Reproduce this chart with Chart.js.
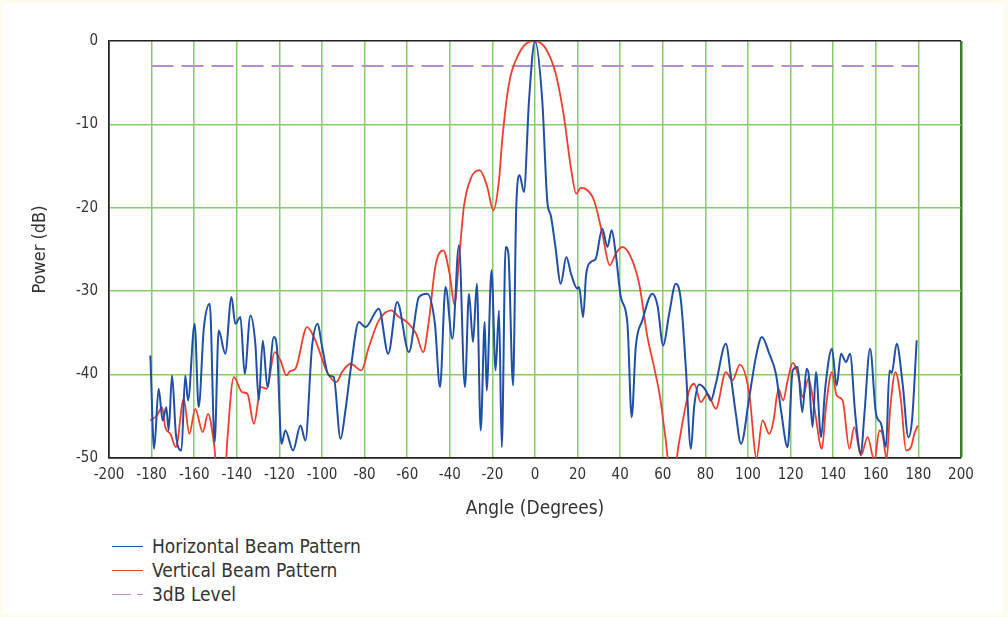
<!DOCTYPE html>
<html lang="en">
<head>
    <meta charset="UTF-8">
    <title>Beam Pattern</title>
    <script src="https://cdn.jsdelivr.net/npm/chart.js"></script>
    <style>
        body { margin: 0; background: #fdfcef; font-family: 'Liberation Sans Narrow', 'DejaVu Sans Condensed', sans-serif; }
        .frame { position: absolute; left: 3px; top: 3px; width: 1000px; height: 611px; background: #fff; }
        .chart-wrapper { position: absolute; left: 0; top: 0; width: 1008px; height: 530px; }
        .legend { position: absolute; left: 112px; top: 535px; }
        .legend-item { position: relative; height: 24px; line-height: 22px; font-size: 19px; color: #333; }
        .legend-item .swatch { position: absolute; left: 0; top: 11px; width: 31px; height: 0; border-top: 1.5px solid; }
        .legend-item .label { position: absolute; left: 40px; top: 0; white-space: nowrap; }
    </style>
</head>
<body>
    <div class="frame"></div>
    <div class="chart-wrapper"><canvas id="beamChart" width="1008" height="530"></canvas></div>

    <div class="legend">
        <div class="legend-item"><span class="swatch" style="border-color:#1f4fa6"></span><span class="label">Horizontal Beam Pattern</span></div>
        <div class="legend-item"><span class="swatch" style="border-color:#f23d2b"></span><span class="label">Vertical Beam Pattern</span></div>
        <div class="legend-item">
            <span class="swatch" style="border-color:#b48fcc;width:19px"></span>
            <span class="swatch" style="border-color:#b48fcc;left:25px;width:6px"></span>
            <span class="label">3dB Level</span>
        </div>
    </div>

    <script>
        // horizontal beam pattern (blue)
        const hAngles = [-180.6, -178.8, -176.7, -174.8, -173.1, -172, -170.4, -168.6, -166, -164.2, -162.9, -159.8, -157.9, -155.5, -152.7, -150.4, -148.5, -145.4, -142.5, -140.7, -138.3, -136.3, -133.6, -131.3, -129.7, -127.8, -125.6, -122.6, -121.1, -119, -117.2, -113.6, -110.1, -107.8, -104.7, -102, -100.2, -96.8, -94.5, -91.3, -89, -86.6, -82.7, -79.6, -73.3, -68.9, -64.7, -59.2, -54.5, -50.6, -47, -44.6, -42, -38.8, -35.7, -32.9, -31, -29.1, -27.3, -25.5, -23.6, -22.7, -20.4, -18.5, -16.9, -15.6, -13.8, -12.5, -10.3, -8.8, -7.2, -5.2, -2.8, 0, 3.4, 5.8, 7.4, 9.5, 12.1, 14.7, 17, 19.9, 20.7, 22.6, 24, 26.2, 28.5, 31.6, 34, 36, 37.9, 40.3, 43.4, 45.4, 47.3, 50.4, 55.1, 57.5, 60.2, 63, 66.1, 68.5, 70.8, 73.2, 74.7, 77.1, 80.2, 82.6, 84.9, 89.6, 92, 94.3, 96.7, 100.6, 103.7, 106.5, 110, 113.1, 115.5, 118.6, 121, 123.3, 125.5, 127.5, 128.5, 130.3, 131.9, 134.3, 136.3, 139.4, 141.6, 143.7, 146, 147.9, 150.4, 153, 154.6, 157.3, 160.1, 162.5, 164.8, 166.4, 167.5, 169.8, 172.6, 175.3, 177, 179.2];
        const hPower = [-37.7, -48.9, -41.7, -45.5, -43.9, -46.7, -40.1, -47.1, -49.1, -40.1, -43.1, -33.9, -43.9, -34.5, -31.5, -48.1, -34.7, -37.5, -30.7, -33.9, -33.1, -39.9, -32.9, -36.3, -43.1, -35.9, -41.5, -35.5, -36.9, -48.3, -46.7, -49.1, -46.1, -47.9, -36.7, -33.9, -36.3, -40.1, -40.3, -47.7, -44.3, -39.5, -33.7, -34.3, -32.1, -37.5, -31.3, -37.3, -30.7, -30.3, -33.9, -41.5, -29.5, -35.7, -24.5, -41.5, -30.3, -36.1, -29.1, -46.7, -33.7, -41.9, -27.5, -39.5, -32.3, -48.7, -24.7, -25.5, -41.3, -19.9, -16.1, -18.1, -7.1, 0, -7.1, -19.3, -20.9, -24.5, -29.1, -25.9, -28, -29.7, -29.5, -33.1, -28, -26.5, -26.1, -22.5, -24.7, -22.7, -25.5, -30.7, -33.9, -45.1, -36.7, -33.5, -30.3, -31.7, -36.5, -32.7, -29.1, -31.1, -39.1, -48.9, -43.9, -41.2, -41.9, -43.1, -41.1, -36.3, -40.3, -44.7, -48.3, -42.7, -37.9, -35.5, -37.5, -39.9, -44.3, -48.7, -39.5, -39.1, -44.5, -39.3, -40, -46.3, -39.7, -47.5, -41.5, -36.9, -41.3, -37.5, -38.5, -37.5, -44.9, -49.5, -44.9, -36.9, -44.7, -45.9, -48.7, -39.5, -39.8, -36.3, -41.1, -47.5, -45.5, -35.9];

        // vertical beam pattern (red)
        const vAngles = [-180.6, -177.5, -175.1, -173.6, -171.2, -168.6, -164.9, -162.3, -159.5, -156, -153.5, -150.8, -149, -145.5, -144.5, -141.4, -137.5, -135, -132, -128.6, -126, -122.2, -119.5, -116.7, -115, -112.5, -107, -103.1, -97.6, -93.2, -90.6, -86.6, -81.5, -78, -73.3, -67.4, -63.9, -60, -55.8, -52.5, -49.8, -46.7, -43.1, -40.1, -37.7, -35.7, -33.4, -30.2, -26, -22.4, -19.6, -16.9, -15.4, -12.2, -7.5, -2.8, 0, 5, 9.7, 13.6, 16.8, 19.4, 21.5, 23.5, 27.7, 31.6, 35.1, 37.9, 41, 45, 48.9, 52.8, 55.9, 58.7, 61.4, 63, 65.8, 67.4, 70, 72.4, 74.7, 77.9, 81, 84.9, 89.6, 92.7, 96.2, 100.6, 104, 106.8, 110, 112, 114.3, 116.5, 118.6, 121, 124.1, 125.6, 128.4, 131.1, 134.7, 136.6, 139.4, 141.6, 144.4, 147.6, 149.9, 153, 156.2, 159.3, 161.7, 163, 165.1, 166.7, 169.2, 171.8, 174.2, 176.5, 178.1, 179.7];
        const vPower = [-45.5, -44.9, -43.9, -46.3, -47.1, -48.7, -42.9, -47.1, -44.1, -46.9, -44.7, -48.1, -52, -52, -48, -40.3, -42.1, -42.3, -45.9, -41.5, -41.7, -37.3, -38.3, -40.1, -39.6, -39.3, -34.3, -35.9, -39.7, -40.9, -39.7, -38.7, -39.5, -36.7, -33.5, -32.3, -33.1, -33.7, -35.1, -37.3, -33.5, -26.9, -25.1, -27.9, -31.7, -26.3, -19.9, -16.5, -15.5, -17.5, -20.3, -16.7, -11.9, -5.1, -1.5, -0.1, 0, -0.9, -3.9, -9.1, -15.1, -18.3, -17.6, -17.7, -19.1, -23.1, -26.9, -25.5, -24.7, -25.9, -29.1, -35.5, -39.1, -42.7, -47.9, -51, -51, -48.5, -44.7, -41.9, -41.1, -43.3, -42.3, -44.1, -39.7, -40.7, -38.8, -42.3, -50, -45.5, -47.1, -45.5, -41.7, -43.1, -40.7, -38.6, -40.7, -42.7, -40.5, -43.9, -48.9, -43.9, -39.7, -42.5, -43.1, -48.9, -46.3, -49.7, -47.5, -50.3, -46.7, -47, -50.1, -44.3, -39.7, -43.1, -49.1, -48.7, -47.1, -46.1];

        // 3dB reference line
        const levelAngles = [-180, 180];
        const levelPower = [-3, -3];

        const xTicks = [-200, -180, -160, -140, -120, -100, -80, -60, -40, -20, 0, 20, 40, 60, 80, 100, 120, 140, 160, 180, 200];
        const yTicks = [0, -10, -20, -30, -40, -50];

        const toPoints = (xs, ys) => xs.map((x, i) => ({ x: x, y: ys[i] }));

        const tickFont = { family: "'Liberation Sans Narrow', 'DejaVu Sans Condensed', sans-serif", size: 15 };
        const gridGreen = '#86cc6c';

        new Chart(document.getElementById('beamChart'), {
            type: 'line',
            data: {
                datasets: [
                    {
                        label: 'Horizontal Beam Pattern',
                        data: toPoints(hAngles, hPower),
                        borderColor: '#1f4fa6',
                        borderWidth: 2,
                        pointRadius: 0,
                        cubicInterpolationMode: 'monotone'
                    },
                    {
                        label: 'Vertical Beam Pattern',
                        data: toPoints(vAngles, vPower),
                        borderColor: '#f23d2b',
                        borderWidth: 1.8,
                        pointRadius: 0,
                        cubicInterpolationMode: 'monotone'
                    },
                    {
                        label: '3dB Level',
                        data: toPoints(levelAngles, levelPower),
                        borderColor: '#b48fcc',
                        borderWidth: 2,
                        borderDash: [22, 8],
                        pointRadius: 0
                    }
                ]
            },
            options: {
                responsive: false,
                animation: false,
                devicePixelRatio: 1,
                layout: { padding: { top: 41, right: 47, left: 0, bottom: 0 } },
                plugins: {
                    legend: { display: false },
                    tooltip: { enabled: false }
                },
                scales: {
                    x: {
                        type: 'linear',
                        min: -200,
                        max: 200,
                        afterBuildTicks: (scale) => { scale.ticks = xTicks.map(v => ({ value: v })); },
                        afterFit: (scale) => { scale.height = 72; },
                        ticks: { color: '#333', font: tickFont, padding: 8, maxRotation: 0, autoSkip: false },
                        grid: {
                            drawTicks: false,
                            color: (ctx) => ctx.tick.value === 200 ? '#3f7d2e' : (ctx.tick.value === -200 ? '#222' : gridGreen),
                            lineWidth: (ctx) => ctx.tick.value === 200 ? 2.5 : 1.5
                        },
                        border: { color: '#222', width: 1.5 },
                        title: {
                            display: true,
                            text: 'Angle (Degrees)',
                            color: '#333',
                            font: { family: tickFont.family, size: 19 },
                            padding: { top: 0, bottom: 10 }
                        }
                    },
                    y: {
                        min: -50,
                        max: 0,
                        afterBuildTicks: (scale) => { scale.ticks = yTicks.map(v => ({ value: v })); },
                        afterFit: (scale) => { scale.width = 109; },
                        ticks: { color: '#333', font: tickFont, padding: 11 },
                        grid: {
                            drawTicks: false,
                            color: (ctx) => (ctx.tick.value === 0 || ctx.tick.value === -50) ? '#222' : gridGreen,
                            lineWidth: 1.5
                        },
                        border: { color: '#222', width: 1.5 },
                        title: {
                            display: true,
                            text: 'Power (dB)',
                            color: '#333',
                            font: { family: tickFont.family, size: 18 },
                            padding: { top: 30, bottom: 0 }
                        }
                    }
                }
            }
        });
    </script>
</body>
</html>
